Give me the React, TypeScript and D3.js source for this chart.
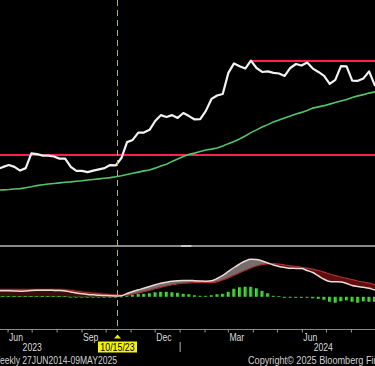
import React, { useMemo } from "react";
import * as d3 from "d3";

// weekly closes (Fridays)
const weeks = [
  "2023-05-19", "2023-05-26", "2023-06-02", "2023-06-09", "2023-06-16", "2023-06-23",
  "2023-06-30", "2023-07-07", "2023-07-14", "2023-07-21", "2023-07-28", "2023-08-04",
  "2023-08-11", "2023-08-18", "2023-08-25", "2023-09-01", "2023-09-08", "2023-09-15",
  "2023-09-22", "2023-09-29", "2023-10-06", "2023-10-13", "2023-10-20", "2023-10-27",
  "2023-11-03", "2023-11-10", "2023-11-17", "2023-11-24", "2023-12-01", "2023-12-08",
  "2023-12-15", "2023-12-22", "2023-12-29", "2024-01-05", "2024-01-12", "2024-01-19",
  "2024-01-26", "2024-02-02", "2024-02-09", "2024-02-16", "2024-02-23", "2024-03-01",
  "2024-03-08", "2024-03-15", "2024-03-22", "2024-03-29", "2024-04-05", "2024-04-12",
  "2024-04-19", "2024-04-26", "2024-05-03", "2024-05-10", "2024-05-17", "2024-05-24",
  "2024-05-31", "2024-06-07", "2024-06-14", "2024-06-21", "2024-06-28", "2024-07-05",
  "2024-07-12", "2024-07-19", "2024-07-26", "2024-08-02", "2024-08-09", "2024-08-16",
  "2024-08-23", "2024-08-30", "2024-09-06",
];

const closes = [
  94.8, 95.5, 96.1, 95.5, 94.3, 95.1, 99.9, 99.7, 99.2, 99.2, 98.9, 98.2,
  98.2, 95.5, 94.2, 94.2, 93.8, 94.3, 94.7, 95.1, 96.1, 96.0, 98.4, 103.6,
  104.3, 106.7, 106.7, 107.6, 110.5, 112.4, 111.8, 112.4, 111.5, 113.1, 112.1, 111.0,
  111.1, 113.8, 117.7, 118.8, 119.3, 126.2, 129.3, 128.4, 127.6, 130.2, 127.8, 126.5,
  126.7, 126.2, 126.0, 125.2, 127.8, 129.1, 128.6, 129.6, 127.6, 126.5, 125.2, 122.6,
  123.9, 128.4, 128.3, 123.7, 123.6, 124.4, 126.7, 122.2, 121.3,
];

const movingAvg = [
  87.9, 88.0, 88.1, 88.3, 88.4, 88.7, 89.0, 89.4, 89.7, 89.9, 90.1, 90.3,
  90.5, 90.6, 90.8, 91.0, 91.2, 91.4, 91.6, 91.8, 92.0, 92.3, 92.6, 93.0,
  93.4, 93.8, 94.2, 94.5, 95.1, 95.8, 96.4, 97.3, 98.1, 98.9, 99.6, 100.0,
  100.5, 101.0, 101.3, 101.7, 102.3, 103.1, 103.8, 104.6, 105.6, 106.7, 107.6, 108.5,
  109.3, 110.2, 110.8, 111.5, 112.1, 112.8, 113.3, 113.9, 114.7, 115.1, 115.5, 116.0,
  116.5, 117.0, 117.5, 118.2, 118.7, 119.1, 119.6, 120.0, 120.3,
];

const macdLine = [
  1.04, 1.04, 1.02, 0.99, 0.94, 0.99, 1.08, 1.11, 1.11, 1.11, 1.09, 1.06,
  0.99, 0.82, 0.65, 0.51, 0.41, 0.34, 0.27, 0.22, 0.17, 0.14, 0.17, 0.56,
  0.90, 1.19, 1.45, 1.76, 2.05, 2.30, 2.49, 2.65, 2.75, 2.80, 2.80, 2.75,
  2.70, 2.66, 2.73, 3.12, 3.64, 4.32, 5.00, 5.60, 6.11, 6.40, 6.37, 6.11,
  5.77, 5.43, 5.17, 5.00, 4.86, 4.85, 4.83, 4.49, 4.15, 3.55, 2.99, 2.61,
  2.56, 2.53, 2.27, 1.93, 1.76, 1.62, 1.45, 1.16, 0.99,
];

const signalLine = [
  1.22, 1.22, 1.21, 1.20, 1.19, 1.19, 1.20, 1.21, 1.22, 1.22, 1.21, 1.20,
  1.17, 1.07, 0.95, 0.82, 0.70, 0.60, 0.50, 0.43, 0.36, 0.31, 0.29, 0.27,
  0.44, 0.65, 0.87, 1.11, 1.37, 1.62, 1.84, 2.05, 2.22, 2.32, 2.39, 2.42,
  2.42, 2.41, 2.42, 2.56, 2.87, 3.24, 3.67, 4.10, 4.52, 4.92, 5.26, 5.50,
  5.63, 5.67, 5.56, 5.43, 5.29, 5.17, 5.04, 4.88, 4.71, 4.49, 4.20, 3.89,
  3.62, 3.38, 3.14, 2.92, 2.70, 2.49, 2.32, 2.10, 1.93,
];

const histogram = [
  0.1, 0.1, 0.1, 0.1, 0.1, 0.1, 0.1, 0.1, 0.1, 0.1, 0.1, 0.1,
  0.1, -0.15, -0.15, -0.15, -0.15, -0.15, -0.15, -0.15, -0.15, -0.15, 0.05, 0.17,
  0.34, 0.51, 0.51, 0.6, 0.77, 0.85, 0.85, 0.77, 0.68, 0.51, 0.43, 0.26,
  0.17, 0.17, 0.26, 0.43, 0.51, 0.85, 1.37, 1.62, 1.71, 1.71, 1.45, 1.02,
  0.6, 0.17, 0.09, -0.17, -0.17, -0.17, -0.17, -0.17, -0.26, -0.34, -0.51, -0.85,
  -1.02, -0.77, -0.6, -0.85, -1.02, -0.77, -0.85, -0.85, -0.85,
];

const supportLevel = 99.4;
const resistanceLevel = 130.1;
const resistanceFrom = "2024-03-29";
const markerDate = "2023-10-15";
const markerLabel = "10/15/23";

const monthTicks = [
  "2023-06-01", "2023-07-01", "2023-08-01", "2023-09-01", "2023-10-01", "2023-11-01",
  "2023-12-01", "2024-01-01", "2024-02-01", "2024-03-01", "2024-04-01", "2024-05-01",
  "2024-06-01", "2024-07-01", "2024-08-01", "2024-09-01",
];
const monthLabelDates = ["2023-06-01", "2023-09-01", "2023-12-01", "2024-03-01", "2024-06-01", "2024-09-01"];
const monthLabels = ["Jun", "Sep", "Dec", "Mar", "Jun", "Sep"];
const yearLabelDates = ["2023-07-01", "2024-06-27"];
const yearLabels = ["2023", "2024"];
const yearBreak = "2024-01-01";

const W = 375;
const H = 366;
const FONT = "'Liberation Sans', Arial, sans-serif";

// narrow-looking text: horizontally squeezed sans
function Txt({ x, y, children, anchor = "start", fill = "#dcdcdc", sx = 0.82, weight = "normal" }: any) {
  return (
    <text
      transform={`translate(${x},${y}) scale(${sx},1)`}
      fill={fill}
      fontSize={10.5}
      fontFamily={FONT}
      fontWeight={weight}
      textAnchor={anchor}
    >
      {children}
    </text>
  );
}

export default function App() {
  const parse = d3.timeParse("%Y-%m-%d");
  const dates = weeks.map((d) => parse(d) as Date);

  const x = useMemo(
    () =>
      d3
        .scaleTime()
        .domain([new Date(2023, 4, 22), new Date(2024, 7, 30, 8)])
        .range([0, W]),
    []
  );
  const y = d3.scaleLinear().domain([70, 150]).range([245, 0]);
  const ym = d3.scaleLinear().domain([-5.5, 8.5]).range([329, 247]);

  const priceLine = d3
    .line<number>()
    .x((_, i) => x(dates[i]))
    .y((d) => y(d));

  const macdPath = d3
    .line<number>()
    .x((_, i) => x(dates[i]))
    .y((d) => ym(d))
    .curve(d3.curveMonotoneX);

  const between = d3
    .area<number>()
    .x((_, i) => x(dates[i]))
    .y0((_, i) => ym(signalLine[i]))
    .y1((d) => ym(d))
    .curve(d3.curveMonotoneX);

  const aboveSignal = d3
    .area<number>()
    .x((_, i) => x(dates[i]))
    .y0(0)
    .y1((d) => ym(d))
    .curve(d3.curveMonotoneX);
  const belowSignal = d3
    .area<number>()
    .x((_, i) => x(dates[i]))
    .y0(H)
    .y1((d) => ym(d))
    .curve(d3.curveMonotoneX);

  const band = d3
    .area<number>()
    .x((_, i) => x(dates[i]))
    .y0(ym(0))
    .y1((d, i) => ym(Math.max(d, macdLine[i])) - 1.5)
    .curve(d3.curveMonotoneX);

  const mxRaw = x(parse(markerDate) as Date);
  const mx = Math.round(mxRaw) + 0.5;
  const rx = x(parse(resistanceFrom) as Date);
  const zeroY = ym(0);

  return (
    <div style={{ position: "fixed", left: 0, top: 0, width: W, height: H, background: "#000" }}>
      <svg width={W} height={H} style={{ display: "block" }}>
        <defs>
          <clipPath id="above">
            <path d={aboveSignal(signalLine) || ""} />
          </clipPath>
          <clipPath id="below">
            <path d={belowSignal(signalLine) || ""} />
          </clipPath>
          <clipPath id="preMarker">
            <rect x={0} y={240} width={mx} height={100} />
          </clipPath>
          <linearGradient id="barGrad" x1="0" x2="1" y1="0" y2="0">
            <stop offset="0" stopColor="#7fe04a" />
            <stop offset="0.5" stopColor="#2fd02f" />
            <stop offset="1" stopColor="#18a018" />
          </linearGradient>
        </defs>
        <rect width={W} height={H} fill="#000" />

        {/* main panel */}
        <line x1={0} x2={W} y1={y(supportLevel)} y2={y(supportLevel)} stroke="#ff1f4f" strokeWidth={2} />
        <line x1={rx} x2={W} y1={y(resistanceLevel)} y2={y(resistanceLevel)} stroke="#ff1f4f" strokeWidth={2} />
        <path d={priceLine(movingAvg) || ""} fill="none" stroke="#52c46a" strokeWidth={1.6} />
        <path d={priceLine(closes) || ""} fill="none" stroke="#f2f2f2" strokeWidth={2.2} strokeLinejoin="round" />

        {/* panel separator */}
        <line x1={0} x2={W} y1={246} y2={246} stroke="#8a8a8a" strokeWidth={2} />
        <line x1={x(parse("2024-01-01") as Date) + 1} x2={x(parse("2024-01-15") as Date)} y1={246} y2={246} stroke="#c8c8c8" strokeWidth={2} />

        {/* MACD panel */}
        <path d={band(signalLine) || ""} fill="#3c0c0c" clipPath="url(#preMarker)" />
        <path d={between(macdLine) || ""} fill="#8c8080" fillOpacity={0.85} clipPath="url(#above)" />
        <path d={between(macdLine) || ""} fill="#6a1010" fillOpacity={0.9} clipPath="url(#below)" />
        <g>
          {histogram.map((h, i) => {
            const bx = x(dates[i]);
            const top = ym(Math.max(h, 0));
            const bot = ym(Math.min(h, 0));
            return (
              <rect
                key={i}
                x={bx - 1.6}
                y={top}
                width={3.2}
                height={Math.max(bot - top, 0.8)}
                fill="url(#barGrad)"
              />
            );
          })}
        </g>
        <line x1={0} x2={mx} y1={zeroY} y2={zeroY} stroke="#3a8a2a" strokeWidth={0.8} strokeDasharray="2 3.6" />
        <path d={macdPath(signalLine) || ""} fill="none" stroke="#a8302e" strokeWidth={1.2} />
        <path d={macdPath(macdLine) || ""} fill="none" stroke="#eadada" strokeWidth={1.5} />

        {/* marker line */}
        <line x1={mx} x2={mx} y1={0} y2={331} stroke="#b8b83a" strokeWidth={1} strokeDasharray="6 4" />

        {/* time axis */}
        <line x1={0} x2={W} y1={329.5} y2={329.5} stroke="#8a8a8a" strokeWidth={1} />
        {monthTicks.map((d) => {
          const tx = x(parse(d) as Date);
          return <line key={d} x1={tx} x2={tx} y1={329.5} y2={332.5} stroke="#9a9a9a" strokeWidth={1} />;
        })}
        {monthLabels.map((m, i) => (
          <Txt key={i} x={x(parse(monthLabelDates[i]) as Date) + 1} y={341}>
            {m}
          </Txt>
        ))}
        {yearLabels.map((yl, i) => (
          <Txt key={yl} x={x(parse(yearLabelDates[i]) as Date)} y={351} anchor="middle">
            {yl}
          </Txt>
        ))}
        <line
          x1={x(parse(yearBreak) as Date)}
          x2={x(parse(yearBreak) as Date)}
          y1={342}
          y2={352}
          stroke="#b0b0b0"
          strokeWidth={1}
        />

        {/* date marker */}
        <path d={`M${mx},334.5 L${mx + 3.5},338.5 L${mx - 3.5},338.5 Z`} fill="#f0f000" />
        <rect x={mx - 19.5} y={341.5} width={39} height={11} fill="#f5f500" />
        <Txt x={mx} y={351} anchor="middle" fill="#000" sx={0.84}>
          {markerLabel}
        </Txt>

        {/* footer */}
        <text x={-8} y={363.5} fill="#d0d0d0" fontSize={10.5} fontFamily={FONT} textLength={125} lengthAdjust="spacingAndGlyphs">
          Weekly 27JUN2014-09MAY2025
        </text>
        <text x={248} y={363.5} fill="#d0d0d0" fontSize={10.5} fontFamily={FONT} textLength={168} lengthAdjust="spacingAndGlyphs">
          Copyright© 2025 Bloomberg Finance L.P.
        </text>
      </svg>
    </div>
  );
}
